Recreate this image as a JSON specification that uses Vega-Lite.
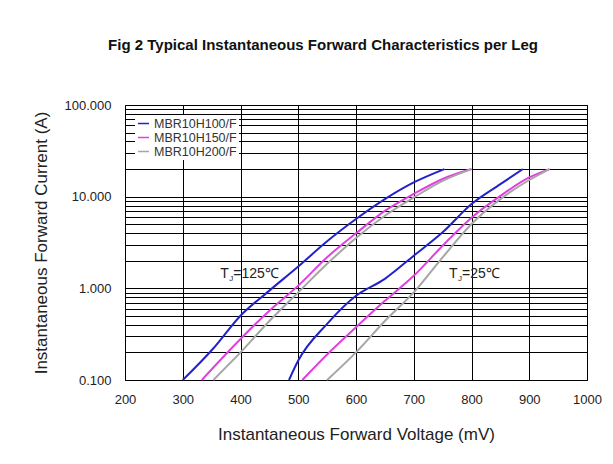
{
  "$schema": "https://vega.github.io/schema/vega-lite/v6.json",
  "autosize": "none",
  "width": 462,
  "height": 275,
  "padding": {"left": 125, "top": 105, "right": 26, "bottom": 84},
  "background": "white",
  "title": {
    "text": "Fig 2 Typical Instantaneous Forward Characteristics per Leg",
    "font": "Liberation Sans",
    "fontSize": 15,
    "fontWeight": "bold",
    "color": "#111",
    "anchor": "middle",
    "dx": -33,
    "offset": 46
  },
  "config": {
    "view": {"stroke": "#000", "strokeWidth": 1},
    "font": "Liberation Sans"
  },
  "datasets": {
    "curves": [
      {"v": 300, "i": 0.1, "dev": "MBR10H100/F", "tj": 125},
      {"v": 352, "i": 0.218, "dev": "MBR10H100/F", "tj": 125},
      {"v": 400, "i": 0.503, "dev": "MBR10H100/F", "tj": 125},
      {"v": 450, "i": 0.944, "dev": "MBR10H100/F", "tj": 125},
      {"v": 500, "i": 1.73, "dev": "MBR10H100/F", "tj": 125},
      {"v": 550, "i": 3.26, "dev": "MBR10H100/F", "tj": 125},
      {"v": 600, "i": 5.7, "dev": "MBR10H100/F", "tj": 125},
      {"v": 650, "i": 9.4, "dev": "MBR10H100/F", "tj": 125},
      {"v": 700, "i": 14.3, "dev": "MBR10H100/F", "tj": 125},
      {"v": 753, "i": 20, "dev": "MBR10H100/F", "tj": 125},
      {"v": 333, "i": 0.1, "dev": "MBR10H150/F", "tj": 125},
      {"v": 400, "i": 0.28, "dev": "MBR10H150/F", "tj": 125},
      {"v": 450, "i": 0.57, "dev": "MBR10H150/F", "tj": 125},
      {"v": 500, "i": 1.07, "dev": "MBR10H150/F", "tj": 125},
      {"v": 550, "i": 2.18, "dev": "MBR10H150/F", "tj": 125},
      {"v": 600, "i": 3.98, "dev": "MBR10H150/F", "tj": 125},
      {"v": 650, "i": 7.0, "dev": "MBR10H150/F", "tj": 125},
      {"v": 700, "i": 10.7, "dev": "MBR10H150/F", "tj": 125},
      {"v": 750, "i": 15.6, "dev": "MBR10H150/F", "tj": 125},
      {"v": 800, "i": 20, "dev": "MBR10H150/F", "tj": 125},
      {"v": 353, "i": 0.1, "dev": "MBR10H200/F", "tj": 125},
      {"v": 400, "i": 0.2, "dev": "MBR10H200/F", "tj": 125},
      {"v": 450, "i": 0.44, "dev": "MBR10H200/F", "tj": 125},
      {"v": 500, "i": 0.904, "dev": "MBR10H200/F", "tj": 125},
      {"v": 550, "i": 1.85, "dev": "MBR10H200/F", "tj": 125},
      {"v": 600, "i": 3.55, "dev": "MBR10H200/F", "tj": 125},
      {"v": 650, "i": 6.2, "dev": "MBR10H200/F", "tj": 125},
      {"v": 700, "i": 9.8, "dev": "MBR10H200/F", "tj": 125},
      {"v": 750, "i": 14.9, "dev": "MBR10H200/F", "tj": 125},
      {"v": 800, "i": 20, "dev": "MBR10H200/F", "tj": 125},
      {"v": 484, "i": 0.1, "dev": "MBR10H100/F", "tj": 25},
      {"v": 500, "i": 0.163, "dev": "MBR10H100/F", "tj": 25},
      {"v": 550, "i": 0.41, "dev": "MBR10H100/F", "tj": 25},
      {"v": 600, "i": 0.83, "dev": "MBR10H100/F", "tj": 25},
      {"v": 650, "i": 1.27, "dev": "MBR10H100/F", "tj": 25},
      {"v": 700, "i": 2.27, "dev": "MBR10H100/F", "tj": 25},
      {"v": 750, "i": 4.08, "dev": "MBR10H100/F", "tj": 25},
      {"v": 800, "i": 8.3, "dev": "MBR10H100/F", "tj": 25},
      {"v": 850, "i": 13.7, "dev": "MBR10H100/F", "tj": 25},
      {"v": 889, "i": 20, "dev": "MBR10H100/F", "tj": 25},
      {"v": 507, "i": 0.1, "dev": "MBR10H150/F", "tj": 25},
      {"v": 550, "i": 0.19, "dev": "MBR10H150/F", "tj": 25},
      {"v": 600, "i": 0.376, "dev": "MBR10H150/F", "tj": 25},
      {"v": 650, "i": 0.73, "dev": "MBR10H150/F", "tj": 25},
      {"v": 700, "i": 1.37, "dev": "MBR10H150/F", "tj": 25},
      {"v": 750, "i": 2.92, "dev": "MBR10H150/F", "tj": 25},
      {"v": 800, "i": 5.9, "dev": "MBR10H150/F", "tj": 25},
      {"v": 850, "i": 10.2, "dev": "MBR10H150/F", "tj": 25},
      {"v": 900, "i": 16.2, "dev": "MBR10H150/F", "tj": 25},
      {"v": 935, "i": 20, "dev": "MBR10H150/F", "tj": 25},
      {"v": 550, "i": 0.1, "dev": "MBR10H200/F", "tj": 25},
      {"v": 600, "i": 0.2, "dev": "MBR10H200/F", "tj": 25},
      {"v": 650, "i": 0.44, "dev": "MBR10H200/F", "tj": 25},
      {"v": 700, "i": 0.904, "dev": "MBR10H200/F", "tj": 25},
      {"v": 750, "i": 2.18, "dev": "MBR10H200/F", "tj": 25},
      {"v": 800, "i": 5.04, "dev": "MBR10H200/F", "tj": 25},
      {"v": 850, "i": 9.4, "dev": "MBR10H200/F", "tj": 25},
      {"v": 900, "i": 15.2, "dev": "MBR10H200/F", "tj": 25},
      {"v": 935, "i": 20, "dev": "MBR10H200/F", "tj": 25}
    ],
    "notes": [
      {"v": 365, "i": 1.45, "main": "T", "sub": "J", "rest": "=125℃"},
      {"v": 761, "i": 1.45, "main": "T", "sub": "J", "rest": "=25℃"}
    ]
  },
  "layer": [
    {
      "data": {"name": "curves"},
      "mark": {"type": "line", "strokeWidth": 2, "interpolate": "monotone"},
      "encoding": {
        "x": {
          "field": "v", "type": "quantitative",
          "scale": {"domain": [200, 1000], "nice": false, "zero": false},
          "axis": {
            "values": [200, 300, 400, 500, 600, 700, 800, 900, 1000],
            "format": "d",
            "title": "Instantaneous Forward Voltage (mV)",
            "titleFont": "Liberation Sans", "titleFontSize": 17, "titleFontWeight": "normal", "titleColor": "#222",
            "titlePadding": 20,
            "labelFont": "Liberation Sans", "labelFontSize": 13, "labelColor": "#222",
            "labelPadding": 13, "labelFlush": false,
            "ticks": false, "domain": false,
            "grid": true, "gridColor": "#000", "gridOpacity": 1, "gridWidth": 1
          }
        },
        "y": {
          "field": "i", "type": "quantitative",
          "scale": {"type": "log", "domain": [0.1, 100], "nice": false},
          "axis": {
            "values": [0.1, 0.2, 0.3, 0.4, 0.5, 0.6, 0.7, 0.8, 0.9, 1, 2, 3, 4, 5, 6, 7, 8, 9, 10, 20, 30, 40, 50, 60, 70, 80, 90, 100],
            "labelExpr": "indexof([0.1, 1, 10, 100], datum.value) >= 0 ? format(datum.value, '.3f') : ''",
            "title": "Instantaneous Forward Current (A)",
            "titleFont": "Liberation Sans", "titleFontSize": 17, "titleFontWeight": "normal", "titleColor": "#222",
            "titlePadding": 14,
            "labelFont": "Liberation Sans", "labelFontSize": 13, "labelColor": "#222",
            "labelPadding": 14, "labelFlush": false, "labelOverlap": false,
            "ticks": false, "domain": false,
            "grid": true, "gridColor": "#000", "gridOpacity": 1, "gridWidth": 1
          }
        },
        "color": {
          "field": "dev", "type": "nominal",
          "scale": {"domain": ["MBR10H100/F", "MBR10H150/F", "MBR10H200/F"], "range": ["#2222cc", "#e040e0", "#a6a6a6"]},
          "legend": {
            "title": null,
            "orient": "top-left",
            "offset": 10,
            "padding": 2,
            "fillColor": "white",
            "symbolType": "stroke",
            "symbolSize": 120,
            "symbolStrokeWidth": 1.5,
            "labelFont": "Liberation Sans",
            "labelFontSize": 12.5,
            "labelColor": "#333",
            "labelOffset": 4,
            "rowPadding": 1
          }
        },
        "detail": {"field": "tj", "type": "nominal"}
      }
    },
    {
      "data": {"name": "notes"},
      "mark": {"type": "text", "align": "left", "baseline": "middle", "fontSize": 14, "font": "Liberation Sans", "color": "#222"},
      "encoding": {
        "x": {"field": "v", "type": "quantitative"},
        "y": {"field": "i", "type": "quantitative"},
        "text": {"field": "main"}
      }
    },
    {
      "data": {"name": "notes"},
      "mark": {"type": "text", "align": "left", "baseline": "middle", "fontSize": 8, "font": "Liberation Sans", "color": "#222", "dx": 9, "dy": 5},
      "encoding": {
        "x": {"field": "v", "type": "quantitative"},
        "y": {"field": "i", "type": "quantitative"},
        "text": {"field": "sub"}
      }
    },
    {
      "data": {"name": "notes"},
      "mark": {"type": "text", "align": "left", "baseline": "middle", "fontSize": 14, "font": "Liberation Sans", "color": "#222", "dx": 13},
      "encoding": {
        "x": {"field": "v", "type": "quantitative"},
        "y": {"field": "i", "type": "quantitative"},
        "text": {"field": "rest"}
      }
    }
  ]
}
